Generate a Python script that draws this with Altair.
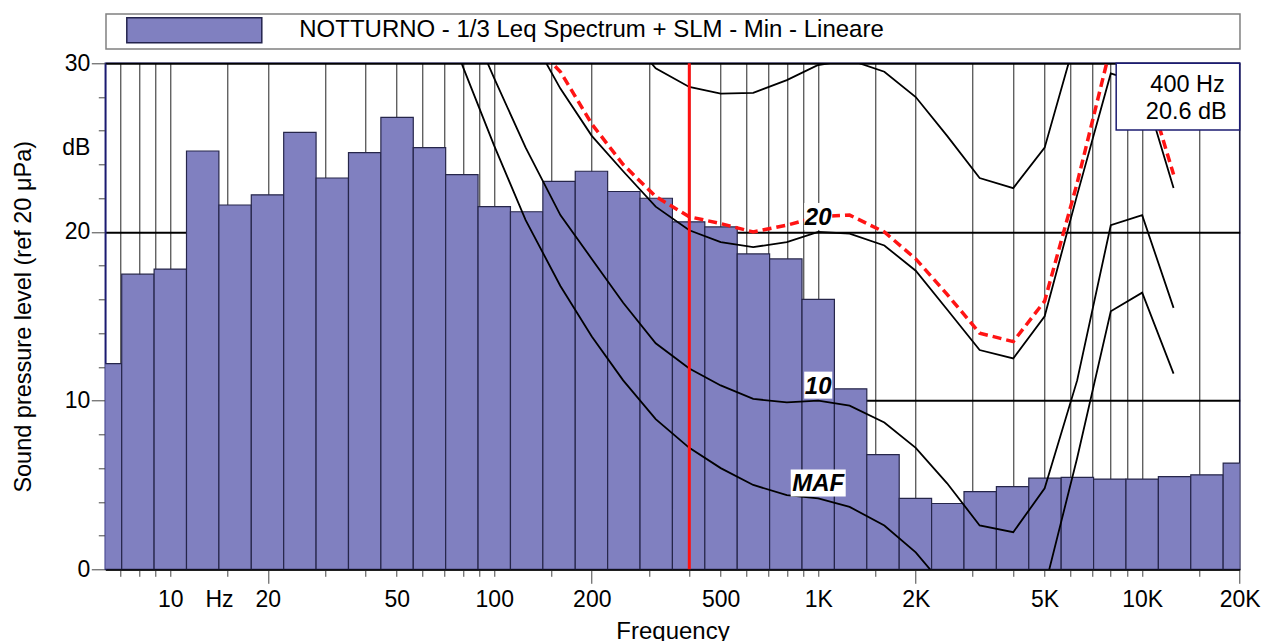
import math
import altair as alt
import pandas as pd

# ---------------- data ----------------
series_name = "NOTTURNO - 1/3 Leq Spectrum + SLM - Min - Lineare"

bands = [6.3, 8, 10, 12.5, 16, 20, 25, 31.5, 40, 50, 63, 80, 100, 125, 160, 200,
         250, 315, 400, 500, 630, 800, 1000, 1250, 1600, 2000, 2500, 3150, 4000,
         5000, 6300, 8000, 10000, 12500, 16000, 20000]
leq = [12.2, 17.5, 17.8, 24.8, 21.6, 22.2, 25.9, 23.2, 24.7, 26.8, 25.0, 23.4,
       21.5, 21.2, 23.0, 23.6, 22.4, 22.0, 20.6, 20.3, 18.7, 18.4, 16.0, 10.7,
       6.8, 4.2, 3.9, 4.6, 4.9, 5.4, 5.45, 5.35, 5.35, 5.5, 5.6, 6.3]

maf_f = [63, 80, 100, 125, 160, 200, 250, 315, 400, 500, 630, 800, 1000, 1250,
         1600, 2000, 2500, 3150, 4000, 5000, 6300, 8000, 10000, 12500]
maf_db = [35.5, 29.8, 25.1, 20.7, 16.8, 13.8, 11.2, 8.9, 7.2, 6.0, 5.0, 4.4, 4.2,
          3.7, 2.6, 1.0, -1.2, -3.6, -3.9, -1.1, 6.6, 15.3, 16.4, 11.6]

p10_f = [80, 100, 125, 160, 200, 250, 315, 400, 500, 630, 800, 1000, 1250, 1600,
         2000, 2500, 3150, 4000, 5000, 6300, 8000, 10000, 12500]
p10_db = [33.4, 29.1, 25.0, 21.0, 18.4, 15.8, 13.4, 11.9, 10.9, 10.1, 9.9, 10.0,
          9.7, 8.7, 7.2, 5.1, 2.6, 2.2, 4.8, 11.2, 20.4, 21.0, 15.5]

p20_f = [125, 160, 200, 250, 315, 400, 500, 630, 800, 1000, 1250, 1600, 2000,
         2500, 3150, 4000, 5000, 6300, 8000, 10000, 12500]
p20_db = [32.2, 28.5, 25.7, 23.6, 21.5, 20.1, 19.4, 19.1, 19.4, 20.0, 19.9, 19.2,
          17.7, 15.4, 13.0, 12.5, 15.0, 22.2, 29.4, 28.8, 22.6]

p30_f = [250, 315, 400, 500, 630, 800, 1000, 1250, 1600, 2000, 2500, 3150, 4000,
         5000, 6300]
p30_db = [32.0, 29.7, 28.6, 28.2, 28.25, 29.0, 29.9, 30.2, 29.5, 28.0, 25.7, 23.2,
          22.6, 25.0, 31.8]

min_f = [125, 160, 200, 250, 315, 400, 500, 630, 800, 1000, 1250, 1600, 2000,
         2500, 3150, 4000, 5000, 6300, 8000, 10000, 12500]
min_db = [31.6, 29.5, 26.4, 24.0, 22.1, 20.9, 20.5, 20.0, 20.4, 20.9, 21.0, 20.0,
          18.4, 16.3, 14.0, 13.5, 15.9, 22.9, 31.0, 29.6, 23.4]

curve_labels = ["20", "10", "MAF"]
curve_label_f = [1000, 1000, 1000]
curve_label_db = [20.0, 10.0, 4.2]

cursor_f = [400]
cursor_db = [20.6]

x_tick_values = [7, 8, 9, 10, 15, 20, 30, 40, 50, 60, 70, 80, 90, 100, 150, 200,
                 300, 400, 500, 600, 700, 800, 900, 1000, 1500, 2000, 3000, 4000,
                 5000, 6000, 7000, 8000, 9000, 10000, 15000, 20000]
x_labelled = [10, 20, 50, 100, 200, 500, 1000, 2000, 5000, 10000, 20000]
x_long_ticks = [20, 200, 2000, 20000]
hz_pos = math.sqrt(10 * 20)
y_tick_values = list(range(0, 31, 2)) + [25]

# ---------------- styles ----------------
FONT = "Liberation Sans"
BAR = "#8080c0"
NAVY = "#1c1c72"
W, H = 1134.4, 506

# ---------------- tables ----------------
def edges(fc):
    n = round(10 * math.log10(fc / 1000.0))
    return 1000 * 10 ** ((n - 0.5) / 10), 1000 * 10 ** ((n + 0.5) / 10)

bars_df = pd.DataFrame({
    "fc": bands,
    "db": leq,
    "lo": [edges(f)[0] for f in bands],
    "hi": [edges(f)[1] for f in bands],
    "series": series_name,
})

rows = []
for name, fs, ds in [("MAF", maf_f, maf_db), ("10", p10_f, p10_db),
                     ("20", p20_f, p20_db), ("30", p30_f, p30_db)]:
    for f, d in zip(fs, ds):
        rows.append({"curve": name, "f": f, "db": d})
curves_df = pd.DataFrame(rows)
min_df = pd.DataFrame({"f": min_f, "db": min_db})
cursor_df = pd.DataFrame({"f": cursor_f, "db": cursor_db})

# label background boxes: width in px, height 27 px (custom symbol path, unit = size/2)
box_px = {"20": 28, "10": 28, "MAF": 55}
BOX_H = 27
lab_df = pd.DataFrame({"label": curve_labels, "f": curve_label_f, "db": curve_label_db})
lab_df["shape"] = [f"M-1,{-BOX_H / box_px[l]:.4f}H1V{BOX_H / box_px[l]:.4f}H-1Z" for l in curve_labels]
lab_df["size"] = [box_px[l] ** 2 for l in curve_labels]

one = pd.DataFrame({"k": [1]})

# ---------------- axes ----------------
def lab_text(v):
    return f"{v // 1000}K" if v >= 1000 else str(v)

x_expr = f"abs(datum.value - {hz_pos:.4f}) < 0.01 ? 'Hz' : " + " : ".join(
    f"datum.value == {v} ? '{lab_text(v)}'" for v in x_labelled) + " : ''"
hz_test = f"abs(datum.value - {hz_pos:.4f}) < 0.01"
long_test = "indexof([" + ",".join(str(v) for v in x_long_ticks) + "], datum.value) >= 0"

xs = alt.Scale(type="log", domain=[6.3, 20000], nice=False)
ys = alt.Scale(domain=[0, 30], nice=False)

xaxis = alt.Axis(
    values=x_tick_values + [hz_pos], labelExpr=x_expr,
    title="Frequency", titleFont=FONT, titleFontSize=24, titleFontWeight="normal",
    titleColor="black", titleBaseline="alphabetic", titleY=69,
    labelFont=FONT, labelFontSize=23, labelColor="black", labelBaseline="alphabetic",
    labelPadding={"condition": {"test": long_test, "value": 23.4}, "value": 30.4},
    labelOverlap=False, labelFlush=False,
    tickSize={"condition": {"test": long_test, "value": 14}, "value": 7},
    tickColor="#444444", tickWidth=1,
    tickOpacity={"condition": {"test": hz_test, "value": 0}, "value": 1},
    grid=True, gridColor="#222222", gridWidth=1,
    gridOpacity={"condition": {"test": hz_test, "value": 0}, "value": 1},
    domainColor="black", domainWidth=1.5,
)
yaxis = alt.Axis(
    values=y_tick_values,
    labelExpr="datum.value == 25 ? 'dB' : (datum.value % 10 == 0 ? datum.label : '')",
    title="Sound pressure level (ref 20 μPa)", titleFont=FONT, titleFontSize=23.5,
    titleFontWeight="normal", titleColor="black", titleAngle=270,
    titleBaseline="alphabetic", titleAlign="center", titleX=-74.3, titleY=H / 2,
    labelFont=FONT, labelFontSize=23, labelColor="black",
    labelPadding={"condition": {"test": "datum.value == 25", "value": 8.5}, "value": 1.5},
    labelFlush=False, labelBaseline="middle",
    tickSize={"condition": {"test": "datum.value % 10 == 0", "value": 14}, "value": 7},
    tickColor="#444444", tickWidth=1,
    tickOpacity={"condition": {"test": "datum.value == 25", "value": 0}, "value": 1},
    grid=True, gridColor="black", gridWidth=2,
    gridOpacity={"condition": {"test": "datum.value % 10 == 0", "value": 1}, "value": 0},
    domainColor=NAVY, domainWidth=1.5,
)

X = lambda fld: alt.X(fld, scale=xs, axis=xaxis)
Y = lambda fld: alt.Y(fld, scale=ys, axis=yaxis)

legend = alt.Legend(
    orient="none", legendX=20.5, legendY=-101.5, title=None,
    symbolType="M-1,-0.1852H1V0.1852H-1Z", symbolSize=135 ** 2,
    symbolStrokeColor="#23234d", symbolStrokeWidth=1.5, symbolOpacity=1,
    labelFont=FONT, labelFontSize=24, labelColor="black", labelOffset=36.5,
    labelLimit=2000, padding=0,
)

# ---------------- layers ----------------
frame = alt.Chart(one).mark_rect(fill="white", stroke="#808080", strokeWidth=1.5).encode(
    x=alt.value(0.7), x2=alt.value(W + 0.3), y=alt.value(-49.3), y2=alt.value(-14.3))

bars = alt.Chart(bars_df).mark_rect(clip=True, stroke="#26264a", strokeWidth=1.2).encode(
    x=X("lo:Q"), x2=alt.X2("hi:Q"), y=Y("db:Q"), y2=alt.datum(0),
    color=alt.Color("series:N", scale=alt.Scale(domain=[series_name], range=[BAR]), legend=legend),
)

curves = alt.Chart(curves_df).mark_line(clip=True, color="black", strokeWidth=1.8).encode(
    x=X("f:Q"), y=Y("db:Q"), detail="curve:N")

min_curve = alt.Chart(min_df).mark_line(clip=True, color="#ff1414", strokeWidth=3.5,
                                        strokeDash=[9, 5]).encode(x=X("f:Q"), y=Y("db:Q"))

cursor = alt.Chart(cursor_df).mark_rule(color="#ff1010", strokeWidth=3).encode(x=X("f:Q"))

boxes = alt.Chart(lab_df).mark_point(filled=True, fill="white", opacity=1, strokeWidth=0,
                                     yOffset=-15.5).encode(
    x=X("f:Q"), y=Y("db:Q"),
    shape=alt.Shape("shape:N", scale=None), size=alt.Size("size:Q", scale=None))

texts = alt.Chart(lab_df).mark_text(font=FONT, fontSize=24, fontWeight="bold",
                                    fontStyle="italic", color="black", baseline="middle",
                                    align="center", dy=-14).encode(
    x=X("f:Q"), y=Y("db:Q"), text="label:N")

annot_box = alt.Chart(one).mark_rect(fill="white", stroke=NAVY, strokeWidth=1.5).encode(
    x=alt.value(1010.9), x2=alt.value(W), y=alt.value(0), y2=alt.value(66.7))

annot1 = alt.Chart(cursor_df).transform_calculate(t="datum.f + ' Hz'").mark_text(
    font=FONT, fontSize=23.5, color="black", align="right", baseline="alphabetic").encode(
    x=alt.value(1119.5), y=alt.value(28.4), text="t:N")
annot2 = alt.Chart(cursor_df).transform_calculate(t="format(datum.db, '.1f') + ' dB'").mark_text(
    font=FONT, fontSize=23.5, color="black", align="right", baseline="alphabetic").encode(
    x=alt.value(1121.5), y=alt.value(55.7), text="t:N")

chart = alt.layer(frame, bars, curves, min_curve, cursor, boxes, texts,
                  annot_box, annot1, annot2).properties(
    width=W, height=H,
    autosize=alt.AutoSizeParams(type="none"),
    padding={"left": 105.3, "top": 63.3, "right": 24, "bottom": 71.7},
    background="white",
).configure_view(stroke=NAVY, strokeWidth=1.5)

chart.save("out.html", embed_options={"renderer": "svg", "actions": False})
